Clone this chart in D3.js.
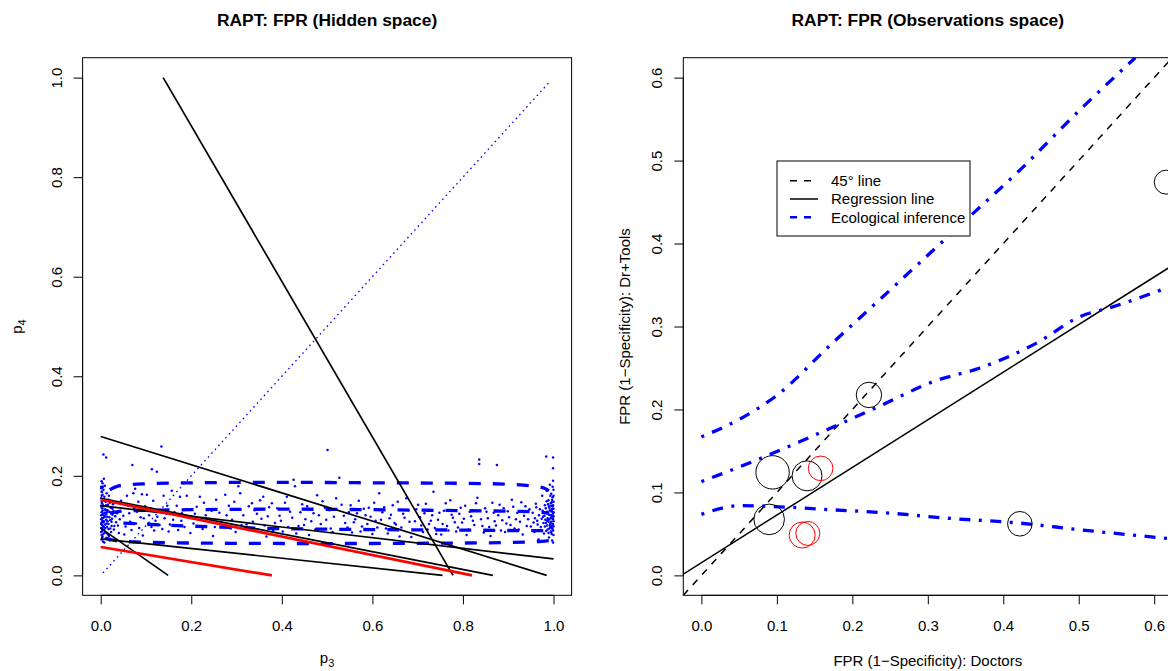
<!DOCTYPE html>
<html><head><meta charset="utf-8">
<script src="https://cdn.jsdelivr.net/npm/d3@7"></script>
<style>
html,body{margin:0;padding:0;background:#fff;}
svg{display:block;font-family:"Liberation Sans",Arial,Helvetica,sans-serif;}
</style></head><body>
<svg id="chart" width="1168" height="671"></svg>
<script>
// ---------- Hidden space (p3, p4) ----------
const hiddenTicks = [0, 0.2, 0.4, 0.6, 0.8, 1.0];
// tomography lines: [p3 start, p4 start, p3 end, p4 end]
const tomoBlack = [
  [0.138, 1.0, 0.778, 0.0],
  [0.0, 0.279, 0.985, 0.0],
  [0.0, 0.140, 1.0, 0.033],
  [0.0, 0.155, 0.866, 0.0],
  [0.0, 0.0733, 0.755, 0.0],
  [0.0, 0.095, 0.149, 0.0]
];
const tomoRed = [
  [0.0, 0.152, 0.820, 0.0],
  [0.0, 0.057, 0.378, 0.0]
];
const diagonal = [[0.005, 0.005], [0.993, 0.993]];
// simulated draws of (p3, p4)
const drawsLeft = [[0.002,0.072],[0.004,0.078],[0.006,0.083],[0.003,0.088],[0.008,0.091],[0.001,0.095],[0.005,0.099],[0.010,0.102],[0.002,0.106],[0.007,0.109],[0.012,0.112],[0.003,0.115],[0.009,0.118],[0.001,0.121],[0.006,0.124],[0.014,0.127],[0.004,0.130],[0.010,0.133],[0.002,0.136],[0.007,0.139],[0.016,0.142],[0.003,0.145],[0.011,0.148],[0.005,0.151],[0.001,0.155],[0.008,0.158],[0.004,0.162],[0.013,0.165],[0.002,0.168],[0.006,0.172],[0.003,0.176],[0.009,0.180],[0.004,0.185],[0.007,0.194],[0.018,0.079],[0.021,0.094],[0.017,0.103],[0.024,0.108],[0.019,0.117],[0.026,0.122],[0.015,0.131],[0.022,0.136],[0.028,0.129],[0.020,0.146],[0.025,0.114],[0.030,0.099],[0.032,0.119],[0.013,0.085],[0.016,0.152],[0.011,0.074],[0.023,0.087],[0.027,0.143],[0.034,0.107],[0.029,0.092],[0.006,0.243],[0.012,0.237],[0.001,0.175],[0.005,0.068],[0.014,0.097],[0.009,0.126],[0.018,0.160],[0.002,0.081],[0.010,0.150],[0.004,0.110],[0.008,0.066],[0.020,0.070],[0.036,0.125],[0.038,0.100],[0.040,0.085],[0.042,0.113],[0.001,0.140],[0.003,0.101],[0.006,0.116],[0.001,0.087],[0.004,0.134],[0.002,0.160],[0.007,0.097],[0.003,0.076],[0.012,0.141],[0.015,0.109],[0.001,0.103],[0.002,0.127],[0.003,0.094],[0.005,0.141],[0.006,0.106],[0.008,0.120],[0.009,0.086],[0.011,0.131],[0.013,0.104],[0.014,0.118],[0.017,0.093],[0.019,0.128],[0.021,0.111],[0.024,0.099],[0.026,0.134],[0.001,0.113],[0.002,0.148],[0.004,0.092],[0.005,0.122],[0.007,0.153],[0.010,0.095],[0.012,0.123],[0.016,0.082],[0.001,0.178],[0.003,0.168],[0.002,0.189],[0.005,0.178]];
const drawsMid = [[0.070,0.222],[0.113,0.213],[0.124,0.208],[0.134,0.259],[0.076,0.174],[0.072,0.165],[0.091,0.163],[0.102,0.162],[0.139,0.160],[0.157,0.170],[0.175,0.158],[0.190,0.160],[0.179,0.125],[0.219,0.158],[0.255,0.152],[0.275,0.162],[0.304,0.179],[0.308,0.165],[0.334,0.145],[0.359,0.158],[0.378,0.145],[0.411,0.158],[0.426,0.192],[0.429,0.179],[0.050,0.120],[0.055,0.098],[0.060,0.140],[0.065,0.108],[0.080,0.128],[0.085,0.095],[0.095,0.115],[0.105,0.104],[0.110,0.135],[0.118,0.090],[0.125,0.118],[0.130,0.101],[0.145,0.124],[0.150,0.088],[0.160,0.112],[0.168,0.140],[0.185,0.097],[0.195,0.118],[0.205,0.104],[0.212,0.138],[0.225,0.093],[0.232,0.121],[0.240,0.108],[0.248,0.079],[0.262,0.126],[0.270,0.099],[0.283,0.140],[0.290,0.112],[0.298,0.087],[0.315,0.121],[0.322,0.102],[0.340,0.131],[0.348,0.092],[0.355,0.114],[0.366,0.078],[0.372,0.137],[0.385,0.105],[0.395,0.120],[0.402,0.088],[0.418,0.128],[0.437,0.099],[0.445,0.143],[0.452,0.113],[0.460,0.081],[0.470,0.125],[0.478,0.161],[0.486,0.103],[0.495,0.136],[0.501,0.252],[0.508,0.094],[0.515,0.118],[0.527,0.196],[0.532,0.142],[0.540,0.105],[0.548,0.127],[0.555,0.086],[0.562,0.113],[0.570,0.150],[0.577,0.098],[0.585,0.121],[0.592,0.136],[0.600,0.083],[0.607,0.110],[0.615,0.165],[0.622,0.127],[0.630,0.094],[0.638,0.115],[0.645,0.141],[0.652,0.102],[0.660,0.078],[0.668,0.124],[0.675,0.155],[0.682,0.108],[0.690,0.091],[0.697,0.133],[0.705,0.117],[0.712,0.087],[0.718,0.144],[0.725,0.103],[0.732,0.121],[0.738,0.095],[0.745,0.112],[0.752,0.082],[0.758,0.130],[0.765,0.099],[0.772,0.151],[0.778,0.116],[0.785,0.088],[0.792,0.124],[0.798,0.106],[0.805,0.140],[0.812,0.092],[0.818,0.119],[0.825,0.101],[0.832,0.156],[0.836,0.233],[0.836,0.224],[0.840,0.113],[0.846,0.086],[0.852,0.128],[0.858,0.097],[0.865,0.146],[0.870,0.109],[0.875,0.222],[0.878,0.121],[0.884,0.090],[0.890,0.135],[0.896,0.104],[0.902,0.117],[0.908,0.152],[0.914,0.094],[0.920,0.126],[0.926,0.108],[0.932,0.082],[0.938,0.139],[0.944,0.113]];
const drawsMid2 = [[0.045,0.150],[0.052,0.082],[0.058,0.160],[0.063,0.125],[0.068,0.091],[0.074,0.135],[0.078,0.104],[0.083,0.148],[0.088,0.117],[0.093,0.080],[0.098,0.139],[0.107,0.121],[0.112,0.097],[0.116,0.150],[0.121,0.110],[0.128,0.131],[0.136,0.093],[0.141,0.115],[0.147,0.140],[0.153,0.102],[0.163,0.127],[0.171,0.091],[0.178,0.110],[0.188,0.133],[0.198,0.085],[0.208,0.124],[0.216,0.098],[0.228,0.146],[0.236,0.114],[0.245,0.130],[0.252,0.097],[0.266,0.107],[0.278,0.121],[0.287,0.094],[0.295,0.148],[0.311,0.101],[0.327,0.139],[0.336,0.108],[0.345,0.124],[0.352,0.151],[0.362,0.100],[0.369,0.119],[0.381,0.090],[0.390,0.135],[0.398,0.110],[0.407,0.146],[0.414,0.097],[0.423,0.116],[0.432,0.084],[0.441,0.127],[0.449,0.101],[0.456,0.139],[0.465,0.109],[0.474,0.092],[0.482,0.121],[0.490,0.149],[0.498,0.112],[0.505,0.131],[0.512,0.087],[0.520,0.155],[0.537,0.120],[0.545,0.096],[0.552,0.141],[0.559,0.107],[0.566,0.125],[0.574,0.088],[0.581,0.134],[0.589,0.103],[0.596,0.118],[0.604,0.146],[0.611,0.096],[0.619,0.112],[0.626,0.137],[0.634,0.084],[0.641,0.122],[0.649,0.105],[0.656,0.148],[0.664,0.096],[0.671,0.116],[0.679,0.131],[0.686,0.077],[0.694,0.109],[0.701,0.142],[0.708,0.100],[0.715,0.125],[0.722,0.092],[0.729,0.110],[0.735,0.168],[0.741,0.083],[0.748,0.126],[0.755,0.103],[0.762,0.145],[0.768,0.090],[0.775,0.122],[0.782,0.107],[0.789,0.096],[0.795,0.136],[0.802,0.114],[0.808,0.081],[0.815,0.128],[0.822,0.110],[0.829,0.145],[0.843,0.099],[0.849,0.135],[0.855,0.115],[0.861,0.079],[0.868,0.126],[0.873,0.100],[0.881,0.142],[0.887,0.111],[0.893,0.087],[0.899,0.129],[0.905,0.101],[0.911,0.138],[0.917,0.113],[0.923,0.092],[0.929,0.147],[0.935,0.120],[0.941,0.099],[0.947,0.133]];
const drawsRight = [[0.950,0.098],[0.954,0.126],[0.958,0.087],[0.961,0.144],[0.964,0.110],[0.967,0.072],[0.970,0.133],[0.972,0.097],[0.975,0.160],[0.977,0.118],[0.979,0.084],[0.981,0.141],[0.983,0.105],[0.984,0.239],[0.985,0.170],[0.986,0.128],[0.987,0.092],[0.988,0.112],[0.989,0.151],[0.990,0.076],[0.991,0.136],[0.992,0.101],[0.992,0.182],[0.993,0.121],[0.994,0.088],[0.994,0.145],[0.995,0.108],[0.995,0.164],[0.996,0.130],[0.996,0.095],[0.997,0.117],[0.997,0.070],[0.998,0.139],[0.998,0.103],[0.998,0.157],[0.999,0.124],[0.999,0.090],[0.999,0.237],[0.999,0.215],[0.999,0.113],[1.000,0.134],[1.000,0.098],[1.000,0.148],[1.000,0.081],[1.000,0.119],[1.000,0.172],[0.999,0.066],[0.998,0.127],[0.997,0.152],[0.996,0.083],[0.995,0.140],[0.994,0.116],[0.993,0.104],[0.992,0.131],[0.991,0.094],[0.990,0.122],[0.989,0.108],[0.988,0.143],[0.987,0.115],[0.986,0.100],[0.985,0.125],[0.984,0.089],[0.983,0.135],[0.982,0.112],[0.981,0.098],[0.980,0.120],[0.978,0.105],[0.976,0.130],[0.974,0.114],[0.971,0.091],[0.968,0.121],[0.965,0.102],[0.962,0.137],[0.959,0.115],[0.956,0.106],[0.999,0.102],[0.999,0.141],[1.000,0.109],[1.000,0.127],[0.998,0.093],[0.998,0.115],[0.997,0.134],[0.997,0.099],[0.996,0.121],[0.996,0.147],[0.995,0.087],[0.994,0.129],[0.993,0.160],[0.993,0.097],[0.991,0.113],[0.990,0.139],[0.989,0.085],[0.988,0.126],[0.986,0.110],[0.985,0.149],[1.000,0.160],[0.999,0.190],[0.998,0.178]];
// posterior summary curves across p3
const hiddenUpper = [[0.02,0.172],[0.04,0.180],[0.10,0.184],[0.20,0.186],[0.40,0.187],[0.60,0.186],[0.80,0.185],[0.90,0.183],[0.95,0.180],[0.98,0.175],[0.99,0.170]];
const hiddenMid = [[0.02,0.125],[0.06,0.130],[0.20,0.132],[0.40,0.133],[0.60,0.132],[0.80,0.130],[0.95,0.128],[0.99,0.125]];
const hiddenMedian = [[0.05,0.105],[0.20,0.099],[0.40,0.094],[0.60,0.092],[0.80,0.091],[0.95,0.090],[0.99,0.090]];
const hiddenLower = [[0.01,0.075],[0.05,0.068],[0.20,0.065],[0.50,0.064],[0.80,0.065],[0.95,0.067],[0.99,0.070]];

// ---------- Observations space ----------
const obsTicks = [0, 0.1, 0.2, 0.3, 0.4, 0.5, 0.6];
const regIntercept = 0.0153, regSlope = 0.574;
const eiUpper = [[0,0.167],[0.05,0.188],[0.10,0.217],[0.17,0.277],[0.243,0.338],[0.356,0.433],[0.418,0.485],[0.506,0.565],[0.575,0.624]];
const eiMiddle = [[0,0.113],[0.073,0.139],[0.13,0.161],[0.17,0.177],[0.243,0.207],[0.307,0.2335],[0.369,0.250],[0.444,0.280],[0.502,0.312],[0.546,0.324],[0.624,0.349]];
const eiLower = [[0,0.0736],[0.051,0.084],[0.095,0.083],[0.174,0.079],[0.243,0.0755],[0.325,0.069],[0.422,0.063],[0.502,0.055],[0.624,0.044]];
// units: [doctors FPR, Dr+Tools FPR, circle radius in px]
const unitsBlack = [[0.222,0.2175,12.7],[0.0943,0.1242,16.7],[0.140,0.120,15],[0.0898,0.0675,15.3],[0.422,0.0622,12.3],[0.616,0.474,12]];
const unitsRed = [[0.158,0.129,12.3],[0.1335,0.0486,13],[0.141,0.0506,12]];
const legendItems = ["45\u00b0 line", "Regression line", "Ecological inference"];

const svg = d3.select("#chart");
const panelW = 489, panelH = 537.6, plotTop = 57.7;
const leftX0 = 82.6, rightX0 = 683.3;
const BLUE = "#0000ff", RED = "#ff0000";

const hx = d3.scaleLinear().domain([-0.04, 1.04]).range([leftX0, leftX0 + panelW]);
const hy = d3.scaleLinear().domain([-0.04, 1.04]).range([plotTop + panelH, plotTop]);
const ox = d3.scaleLinear().domain([-0.024, 0.624]).range([rightX0, rightX0 + panelW]);
const oy = d3.scaleLinear().domain([-0.024, 0.624]).range([plotTop + panelH, plotTop]);

const defs = svg.append("defs");
function clip(id, x0) {
  defs.append("clipPath").attr("id", id).append("rect")
    .attr("x", x0).attr("y", plotTop).attr("width", panelW).attr("height", panelH);
}
clip("clipL", leftX0); clip("clipR", rightX0);

function axes(xs, ys, ticksX, ticksY, x0, fmt) {
  const base = plotTop + panelH;
  const gx = svg.append("g").attr("transform", `translate(0,${base})`)
    .call(d3.axisBottom(xs).tickValues(ticksX).tickFormat(fmt).tickSize(9).tickPadding(15.6).tickSizeOuter(0));
  gx.select(".domain").remove();
  gx.append("line").attr("x1", xs(ticksX[0])).attr("x2", xs(ticksX[ticksX.length - 1]))
    .attr("stroke", "#000");
  const gy = svg.append("g").attr("transform", `translate(${x0},0)`)
    .call(d3.axisLeft(ys).tickValues(ticksY).tickFormat(fmt).tickSize(9).tickSizeOuter(0));
  gy.select(".domain").remove();
  gy.append("line").attr("y1", ys(ticksY[0])).attr("y2", ys(ticksY[ticksY.length - 1]))
    .attr("stroke", "#000");
  gy.selectAll("text").attr("x", null).attr("dy", null).attr("text-anchor", "middle")
    .attr("transform", "translate(-21,0) rotate(-90)");
  [gx, gy].forEach(g => {
    g.selectAll("text").attr("font-size", 15).attr("fill", "#000")
      .attr("font-family", '"Liberation Sans",Arial,sans-serif');
    g.selectAll(".tick line").attr("stroke", "#000");
  });
}
const fmt1 = d3.format(".1f");
axes(hx, hy, hiddenTicks, hiddenTicks, leftX0, fmt1);
axes(ox, oy, obsTicks, obsTicks, rightX0, fmt1);

// ---------- left panel marks ----------
const L = svg.append("g").attr("clip-path", "url(#clipL)");
const lineH = d3.line().x(d => hx(d[0])).y(d => hy(d[1]));
L.append("path").attr("d", lineH(diagonal)).attr("fill", "none")
  .attr("stroke", BLUE).attr("stroke-width", 1.3).attr("stroke-dasharray", "1.6,3.6");
L.selectAll("circle.draw").data(drawsLeft.concat(drawsMid, drawsMid2, drawsRight)).join("circle")
  .attr("class", "draw").attr("cx", d => hx(d[0])).attr("cy", d => hy(d[1]))
  .attr("r", 1.25).attr("fill", BLUE);
const smoothH = d3.line().x(d => hx(d[0])).y(d => hy(d[1])).curve(d3.curveMonotoneX);
[hiddenUpper, hiddenMid, hiddenMedian, hiddenLower].forEach(c => {
  L.append("path").attr("d", smoothH(c)).attr("fill", "none").attr("stroke", BLUE)
    .attr("stroke-width", 3.3).attr("stroke-dasharray", "12,12");
});
L.selectAll("line.tb").data(tomoBlack).join("line").attr("class", "tb")
  .attr("x1", d => hx(d[0])).attr("y1", d => hy(d[1])).attr("x2", d => hx(d[2])).attr("y2", d => hy(d[3]))
  .attr("stroke", "#000").attr("stroke-width", 1.7);
L.selectAll("line.tr").data(tomoRed).join("line").attr("class", "tr")
  .attr("x1", d => hx(d[0])).attr("y1", d => hy(d[1])).attr("x2", d => hx(d[2])).attr("y2", d => hy(d[3]))
  .attr("stroke", RED).attr("stroke-width", 2.7);

// ---------- right panel marks ----------
const R = svg.append("g").attr("clip-path", "url(#clipR)");
R.append("line").attr("x1", ox(-0.024)).attr("y1", oy(-0.024)).attr("x2", ox(0.624)).attr("y2", oy(0.624))
  .attr("stroke", "#000").attr("stroke-width", 1.5).attr("stroke-dasharray", "7,7");
R.append("line").attr("x1", ox(-0.024)).attr("y1", oy(regIntercept - 0.024 * regSlope))
  .attr("x2", ox(0.624)).attr("y2", oy(regIntercept + 0.624 * regSlope))
  .attr("stroke", "#000").attr("stroke-width", 1.5);
const smoothO = d3.line().x(d => ox(d[0])).y(d => oy(d[1])).curve(d3.curveMonotoneX);
[eiUpper, eiMiddle, eiLower].forEach(c => {
  R.append("path").attr("d", smoothO(c)).attr("fill", "none").attr("stroke", BLUE)
    .attr("stroke-width", 3.3).attr("stroke-dasharray", "3,8.5,11,8.5");
});
R.selectAll("circle.ub").data(unitsBlack).join("circle").attr("class", "ub")
  .attr("cx", d => ox(d[0])).attr("cy", d => oy(d[1])).attr("r", d => d[2])
  .attr("fill", "none").attr("stroke", "#000").attr("stroke-width", 1);
R.selectAll("circle.ur").data(unitsRed).join("circle").attr("class", "ur")
  .attr("cx", d => ox(d[0])).attr("cy", d => oy(d[1])).attr("r", d => d[2])
  .attr("fill", "none").attr("stroke", RED).attr("stroke-width", 1);

// frames
[leftX0, rightX0].forEach(x0 => svg.append("rect").attr("x", x0).attr("y", plotTop)
  .attr("width", panelW).attr("height", panelH).attr("fill", "none").attr("stroke", "#000").attr("stroke-width", 1));

// legend
const lg = svg.append("g");
lg.append("rect").attr("x", 777).attr("y", 161).attr("width", 193).attr("height", 75)
  .attr("fill", "#fff").attr("stroke", "#000");
const legStyles = [
  {stroke: "#000", w: 1.5, dash: "7,7"},
  {stroke: "#000", w: 1.5, dash: null},
  {stroke: BLUE, w: 2.5, dash: "7,7"}
];
legendItems.forEach((t, i) => {
  const cy = 180.7 + i * 18.3;
  lg.append("line").attr("x1", 790).attr("x2", 818).attr("y1", cy).attr("y2", cy)
    .attr("stroke", legStyles[i].stroke).attr("stroke-width", legStyles[i].w)
    .attr("stroke-dasharray", legStyles[i].dash);
  lg.append("text").attr("x", 831).attr("y", cy + 5.3).attr("font-size", 15).text(t);
});

// titles and axis labels
const midL = leftX0 + panelW / 2, midR = rightX0 + panelW / 2, midY = plotTop + panelH / 2;
svg.append("text").attr("x", midL).attr("y", 25.5).attr("text-anchor", "middle")
  .attr("font-weight", "bold").attr("font-size", 17.4).text("RAPT: FPR (Hidden space)");
svg.append("text").attr("x", midR).attr("y", 25.5).attr("text-anchor", "middle")
  .attr("font-weight", "bold").attr("font-size", 17.4).text("RAPT: FPR (Observations space)");
function subLabel(x, y, rot, main, sub) {
  const t = svg.append("text").attr("text-anchor", "middle").attr("font-size", 15)
    .attr("transform", `translate(${x},${y})` + (rot ? " rotate(-90)" : ""));
  t.append("tspan").text(main);
  t.append("tspan").attr("font-size", 11).attr("dy", 3.5).text(sub);
}
subLabel(midL, 663, false, "p", "3");
subLabel(22, midY, true, "p", "4");
svg.append("text").attr("x", midR).attr("y", 666).attr("text-anchor", "middle").attr("font-size", 15)
  .text("FPR (1\u2212Specificity): Doctors");
svg.append("text").attr("transform", `translate(630,${midY}) rotate(-90)`).attr("text-anchor", "middle")
  .attr("font-size", 15).text("FPR (1\u2212Specificity): Dr+Tools");
</script></body></html>
